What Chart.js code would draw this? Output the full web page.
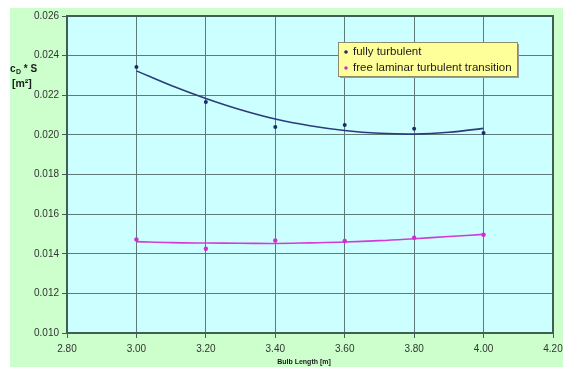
<!DOCTYPE html>
<html>
<head>
<meta charset="utf-8">
<script src="https://cdn.jsdelivr.net/npm/chart.js@4.4.1/dist/chart.umd.min.js"></script>
<style>
  html, body { margin: 0; padding: 0; background: #fff; }
  #wrap { width: 563px; height: 367px; }
</style>
</head>
<body>
<div id="wrap"><canvas id="chart" width="563" height="367"></canvas></div>
<script>
// measured values
const bulbLength = [3.0, 3.2, 3.4, 3.6, 3.8, 4.0];
const fullyTurbulent = [0.02343, 0.02166, 0.02040, 0.02050, 0.02031, 0.02009];
const freeTransition = [0.01472, 0.01425, 0.01467, 0.01464, 0.01481, 0.01496];

// trend lines
const trendX = [3.0, 3.1, 3.2, 3.3, 3.4, 3.5, 3.6, 3.7, 3.8, 3.9, 4.0];
const trendFully = [0.02323, 0.02249, 0.02184, 0.02127, 0.02080, 0.02046, 0.02022, 0.02008, 0.02004, 0.02013, 0.02033];
const trendFree = [0.01461, 0.01456, 0.01454, 0.01453, 0.01452, 0.01455, 0.01459, 0.01466, 0.01476, 0.01487, 0.01498];

const xTicks = [2.8, 3.0, 3.2, 3.4, 3.6, 3.8, 4.0, 4.2];

const navy = "#1d2b6b";
const magenta = "#d42ad4";

function pts(xs, ys) {
  return xs.map((x, i) => ({ x: x, y: ys[i] }));
}

const backgroundPlugin = {
  id: "bg",
  beforeDraw(chart) {
    const ctx = chart.ctx;
    const a = chart.chartArea;
    ctx.save();
    ctx.fillStyle = "#ffffff";
    ctx.fillRect(0, 0, chart.width, chart.height);
    ctx.fillStyle = "#ccffcc";
    ctx.fillRect(10, 8, chart.width - 10, chart.height - 8);
    ctx.fillStyle = "#ccffff";
    ctx.fillRect(a.left, a.top, a.right - a.left, a.bottom - a.top);
    ctx.restore();
  },
  afterDraw(chart) {
    const ctx = chart.ctx;
    const a = chart.chartArea;
    ctx.save();
    // frame
    ctx.strokeStyle = "#3f5f55";
    ctx.lineWidth = 2;
    ctx.strokeRect(a.left, a.top, a.right - a.left, a.bottom - a.top);

    // y title
    ctx.fillStyle = "#1a1a1a";
    ctx.font = "bold 10px Arial, 'Liberation Sans', sans-serif";
    ctx.textBaseline = "middle";
    ctx.textAlign = "left";
    ctx.fillText("c", 10, 69);
    ctx.font = "bold 7px Arial, 'Liberation Sans', sans-serif";
    ctx.fillText("D", 16, 72);
    ctx.font = "bold 10px Arial, 'Liberation Sans', sans-serif";
    ctx.fillText(" * S", 21, 69);
    ctx.font = "bold 10.5px Arial, 'Liberation Sans', sans-serif";
    ctx.fillText("[m²]", 12, 84);

    // x title
    ctx.font = "bold 7px Arial, 'Liberation Sans', sans-serif";
    ctx.textAlign = "center";
    ctx.fillText("Bulb Length [m]", 304, 362);

    // legend
    const lx = 338, ly = 42, lw = 179, lh = 34;
    ctx.fillStyle = "#9a9a9a";
    ctx.fillRect(lx + 2, ly + 2, lw, lh);
    ctx.fillStyle = "#ffff99";
    ctx.fillRect(lx, ly, lw, lh);
    ctx.strokeStyle = "#8c8c6c";
    ctx.lineWidth = 1;
    ctx.strokeRect(lx + 0.5, ly + 0.5, lw, lh);
    const items = chart.data.datasets.filter(d => !d.hideInLegend);
    ctx.font = "11.5px Arial, 'Liberation Sans', sans-serif";
    ctx.textAlign = "left";
    items.forEach((d, i) => {
      const y = ly + 10 + i * 16;
      ctx.fillStyle = d.backgroundColor;
      ctx.beginPath();
      ctx.arc(lx + 8, y, 1.8, 0, Math.PI * 2);
      ctx.fill();
      ctx.fillStyle = "#1a1a1a";
      ctx.fillText(d.label, lx + 15, y);
    });
    ctx.restore();
  }
};

new Chart(document.getElementById("chart"), {
  type: "line",
  data: {
    datasets: [
      {
        label: "fully turbulent",
        data: pts(bulbLength, fullyTurbulent),
        showLine: false,
        pointRadius: 2,
        pointBackgroundColor: navy,
        pointBorderWidth: 0,
        backgroundColor: navy,
        borderColor: navy,
      },
      {
        label: "fully trend",
        hideInLegend: true,
        data: pts(trendX, trendFully),
        pointRadius: 0,
        borderColor: "#2c3b7a",
        borderWidth: 1.6,
        tension: 0.4,
      },
      {
        label: "free laminar turbulent transition",
        data: pts(bulbLength, freeTransition),
        showLine: false,
        pointRadius: 2.2,
        pointBackgroundColor: magenta,
        pointBorderWidth: 0,
        backgroundColor: magenta,
        borderColor: magenta,
      },
      {
        label: "free trend",
        hideInLegend: true,
        data: pts(trendX, trendFree),
        pointRadius: 0,
        borderColor: "#d23cd2",
        borderWidth: 1.6,
        tension: 0.4,
      },
    ],
  },
  options: {
    responsive: false,
    animation: false,
    layout: { padding: { top: 16, right: 10, left: 0, bottom: 0 } },
    plugins: {
      legend: { display: false },
      tooltip: { enabled: false },
    },
    scales: {
      x: {
        type: "linear",
        min: 2.8,
        max: 4.2,
        afterBuildTicks: (scale) => {
          scale.ticks = xTicks.map(v => ({ value: v }));
        },
        afterFit: (scale) => {
          scale.height = 34;
          scale.paddingRight = 0;
        },
        grid: { color: "#5f7a78", lineWidth: 1, tickLength: 5, tickColor: "#3f5f55" },
        border: { color: "#3f5f55", width: 2 },
        ticks: {
          padding: 5,
          color: "#333",
          font: { family: "Arial, 'Liberation Sans', sans-serif", size: 10 },
          callback: (v) => v.toFixed(2),
          maxRotation: 0,
        },
      },
      y: {
        min: 0.010,
        max: 0.026,
        afterFit: (scale) => { scale.width = 67; },
        grid: { color: "#5f7a78", lineWidth: 1, tickLength: 5, tickColor: "#3f5f55" },
        border: { color: "#3f5f55", width: 2 },
        ticks: {
          stepSize: 0.002,
          padding: 3,
          color: "#333",
          font: { family: "Arial, 'Liberation Sans', sans-serif", size: 10 },
          callback: (v) => v.toFixed(3),
        },
      },
    },
  },
  plugins: [backgroundPlugin],
});
</script>
</body>
</html>
